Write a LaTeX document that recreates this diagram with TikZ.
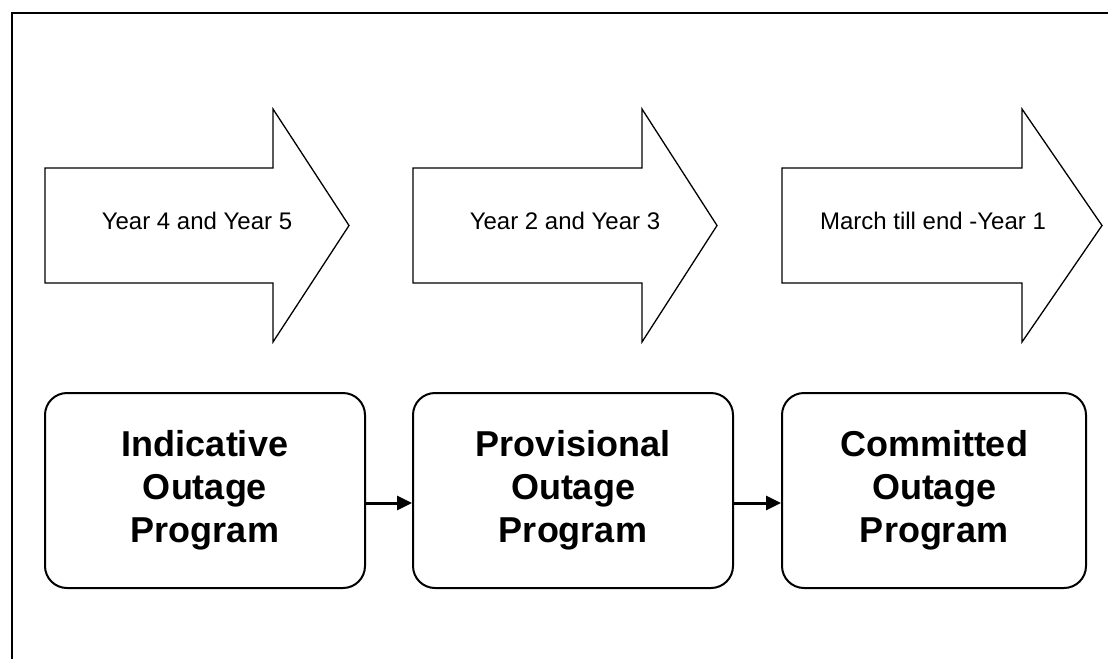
\documentclass[tikz,border=0pt]{standalone}
\usepackage{fontspec}
\setmainfont{Liberation Sans}
\usetikzlibrary{arrows.meta}
\begin{document}
\begin{tikzpicture}[x=1pt,y=-1pt,
  blockarrow/.style={draw=black,line width=1.3pt,fill=white,line join=miter},
  arrowtext/.style={font=\fontsize{24}{28}\selectfont,inner sep=0pt,anchor=base},
  progbox/.style={draw=black,line width=2pt,rounded corners=22pt,minimum height=195pt,align=center,font=\fontsize{36}{43}\selectfont\bfseries,inner sep=0pt,execute at begin node={\rule{0pt}{34.5pt}}},
  link/.style={line width=3pt,-{Triangle[length=15pt,width=14pt]}}]
\useasboundingbox (0,0) rectangle (1108,659);
% frame
\draw[line width=2pt] (12,659) -- (12,13) -- (1108,13);
% block arrows
\draw[blockarrow] (45,168) -- (273,168) -- (273,109) -- (349,225.5) -- (273,342) -- (273,283) -- (45,283) -- cycle;
\draw[blockarrow] (413,168) -- (642,168) -- (642,109) -- (717,225.5) -- (642,342) -- (642,283) -- (413,283) -- cycle;
\draw[blockarrow] (782,168) -- (1022,168) -- (1022,109) -- (1102,225.5) -- (1022,342) -- (1022,283) -- (782,283) -- cycle;
\node[arrowtext] (t1) at (197,229) {Year 4 and Year 5};
\node[arrowtext] (t2) at (565,229) {Year 2 and Year 3};
\node[arrowtext] (t3) at (933,229) {March till end -Year 1};
% program boxes
\node[progbox,minimum width=320pt] (b1) at (205,490.5) {Indicative\\Outage\\Program};
\node[progbox,minimum width=320pt] (b2) at (573,490.5) {Provisional\\Outage\\Program};
\node[progbox,minimum width=304pt] (b3) at (934,490.5) {Committed\\Outage\\Program};
% connectors
\draw[link] ([yshift=-12.5pt]b1.east) -- ([yshift=-12.5pt]b2.west);
\draw[link] ([yshift=-12.5pt]b2.east) -- ([yshift=-12.5pt]b3.west);
\end{tikzpicture}
\end{document}
